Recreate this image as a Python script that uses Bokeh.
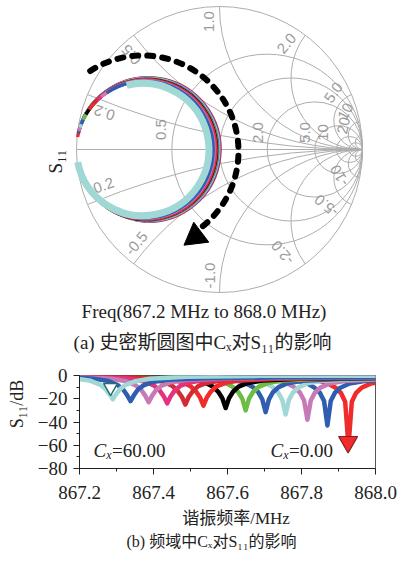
import math
from bokeh.plotting import figure
from bokeh.models import Range1d, FixedTicker, Title
from bokeh.core.properties import value
from bokeh.embed import file_html
from bokeh.resources import INLINE

# ------------------------------------------------------------------ data
X_TICKS = [867.2, 867.4, 867.6, 867.8, 868.0]
X_TICK_LABELS = ["867.2", "867.4", "867.6", "867.8", "868.0"]
X_MINOR = [867.3, 867.5, 867.7, 867.9]
Y_TICKS = [0, -20, -40, -60, -80]
Y_TICK_LABELS = ["0", "\u221220", "\u221240", "\u221260", "\u221280"]
Y_MINOR = [-10, -30, -50, -70]

# resonance centre of each trace (MHz), left (Cx=60) to right (Cx=0)
DIP_FREQ = [867.290, 867.338, 867.387, 867.437, 867.486, 867.535, 867.595,
            867.649, 867.703, 867.757, 867.816, 867.870, 867.927]
COLORS = ["#9fd8d5", "#2f5db0", "#c67ab6", "#e6317d", "#d22b32", "#ef2b2b",
          "#000000", "#6cbd46", "#2f5db0", "#9fd8d5", "#c67ab6", "#2f5db0", "#ef2b2b"]

# frequency offsets (MHz) from each resonance, and S11 (dB) read at them
OFFSETS = [-0.80, -0.40, -0.20, -0.10, -0.06, -0.035, -0.02, -0.009, 0.0,
           0.009, 0.02, 0.035, 0.06, 0.10, 0.20, 0.40, 0.80]
DIP01 = [-0.1, -0.3, -1.0, -2.6, -4.6, -7.8, -11.5, -16.0, -20.5, -16.0, -11.5, -8.0, -5.0, -2.8, -1.0, -0.3, -0.2]
DIP02 = [-0.1, -0.3, -1.0, -2.7, -4.8, -8.2, -12.0, -17.0, -22.0, -17.0, -12.0, -8.5, -5.6, -3.6, -2.3, -1.6, -1.3]
DIP03 = [-0.1, -0.3, -1.0, -2.8, -5.0, -8.5, -12.5, -17.5, -23.0, -17.5, -12.5, -8.8, -5.8, -3.8, -2.4, -1.7, -1.4]
DIP04 = [-0.1, -0.3, -1.1, -2.9, -5.1, -8.8, -13.0, -18.0, -24.0, -18.0, -13.0, -9.0, -6.0, -4.0, -2.5, -1.8, -1.5]
DIP05 = [-0.1, -0.3, -1.1, -3.0, -5.2, -9.0, -13.5, -18.5, -25.0, -18.5, -13.5, -9.2, -6.2, -4.1, -2.6, -1.9, -1.6]
DIP06 = [-0.1, -0.3, -1.2, -3.0, -5.3, -9.2, -13.8, -19.0, -26.0, -19.0, -13.8, -9.4, -6.3, -4.2, -2.7, -2.0, -1.7]
DIP07 = [-0.1, -0.3, -1.2, -3.1, -5.4, -9.4, -14.0, -19.5, -28.0, -19.5, -14.0, -9.6, -6.4, -4.3, -2.8, -2.1, -1.8]
DIP08 = [-0.1, -0.3, -1.2, -3.2, -5.5, -9.6, -14.2, -20.0, -30.0, -20.0, -14.2, -9.8, -6.5, -4.4, -2.9, -2.2, -1.9]
DIP09 = [-0.1, -0.3, -1.3, -3.2, -5.6, -9.8, -14.4, -20.5, -31.5, -20.5, -14.4, -10.0, -6.6, -4.5, -3.0, -2.3, -2.0]
DIP10 = [-0.1, -0.3, -1.3, -3.3, -5.7, -10.0, -14.6, -21.0, -33.5, -21.0, -14.6, -10.2, -6.7, -4.6, -3.1, -2.4, -2.1]
DIP11 = [-0.1, -0.3, -1.3, -3.3, -5.8, -10.2, -14.8, -21.5, -38.0, -21.5, -14.8, -10.4, -6.8, -4.7, -3.2, -2.5, -2.2]
DIP12 = [-0.1, -0.3, -1.4, -3.4, -5.9, -10.4, -15.0, -22.0, -43.0, -22.0, -15.0, -10.5, -6.9, -4.8, -3.3, -2.6, -2.3]
DIP13 = [-0.1, -0.3, -1.4, -3.4, -6.0, -10.5, -15.2, -22.5, -61.0, -22.5, -15.2, -10.6, -7.0, -4.9, -3.4, -2.7, -2.4]
CURVES = [DIP01, DIP02, DIP03, DIP04, DIP05, DIP06, DIP07, DIP08, DIP09,
          DIP10, DIP11, DIP12, DIP13]

MARKER_FREQ = [867.284, 867.926]
MARKER_DB = [-10.3, -57.2]

# Smith chart: each S11 trace is a circle tangent at Gamma=-1 (radius in Gamma units)
TRACE_RADIUS = [0.463, 0.478, 0.481, 0.484, 0.486, 0.488, 0.490, 0.492, 0.494,
                0.496, 0.498, 0.500, 0.502]
TRACE_START_DEG = [104, 124, 130, 134, 139, 145, 150, 155, 159, 162, 165, 167, 170]
TRACE_END_DEG = [191, 200, 206, 212, 218, 224, 230, 236, 242, 248, 254, 260, 266]

SMITH_R = [0.5, 1.0, 2.0, 5.0, 10.0, 20.0]
SMITH_X = [0.2, 0.5, 1.0, 2.0, 5.0, 10.0, 20.0]

# ------------------------------------------------------------------ layout helpers
SC = 143.0          # px per unit Gamma
CX, CY = 219.0, 149.0
TOP_H = 358


def gx(px):
    return (px - CX) / SC


def gy(py):
    return (CY - py) / SC


SERIF = "'Liberation Serif', 'Noto Sans CJK SC'"
GRID_C = "#adadad"
LABEL_C = "#9a9a9a"
NB = "\u00a0"

# ------------------------------------------------------------------ Smith chart
p1 = figure(width=401, height=TOP_H, output_backend="svg", toolbar_location=None,
            x_range=Range1d(gx(0), gx(401)), y_range=Range1d(gy(TOP_H), gy(0)),
            x_axis_location=None, y_axis_location=None, min_border=0)
p1.grid.visible = False
p1.outline_line_color = None
p1.background_fill_color = "white"
p1.border_fill_color = "white"

# outer circle + resistance circles
rc_x = [0.0] + [r / (1 + r) for r in SMITH_R]
rc_rad = [1.0] + [1 / (1 + r) for r in SMITH_R]
p1.circle(x=rc_x, y=[0] * len(rc_x), radius=rc_rad, fill_color=None,
          line_color=GRID_C, line_width=1)
p1.segment(x0=[-1], y0=[0], x1=[1], y1=[0], line_color=GRID_C, line_width=1)

# reactance arcs
for xv in SMITH_X:
    for x in (xv, -xv):
        cyy = 1.0 / x
        rad = 1.0 / abs(x)
        px_ = (x * x - 1) / (x * x + 1)
        py_ = 2 * x / (x * x + 1)
        th = math.atan2(py_ - cyy, px_ - 1.0) % (2 * math.pi)
        if x > 0:
            a0, a1 = th, 1.5 * math.pi
        else:
            a0, a1 = 0.5 * math.pi, th
        p1.arc(x=[1.0], y=[cyy], radius=rad, start_angle=a0, end_angle=a1,
               direction="anticlock", line_color=GRID_C, line_width=1)

# grid labels (text, centre px, angle deg)
smith_labels = [
    ("1.0", 208, 21, 90), ("2.0", 286, 43, 50), ("5.0", 333, 92, 55),
    ("10", 345, 111, 62),
    ("0.5", 131, 54, 132), ("0.2", 104, 112, 162),
    ("0.5", 160, 129, 90), ("2.0", 257, 132, 90), ("5.0", 304, 132, 90),
    ("10", 322, 132, 90), ("20", 343, 125, 78),
    ("0.2", 103, 185, 20), ("-0.5", 136, 243, 50), ("-1.0", 209, 275, 90),
    ("-2.0", 282, 252, 130), ("-5.0", 326, 205, 140), ("-10", 339, 175, 120),
]
for t, lx, ly, ang in smith_labels:
    p1.text(x=[gx(lx)], y=[gy(ly)], text=[t], angle=math.radians(ang),
            text_font=value("Liberation Sans"), text_font_size="15px",
            text_color=LABEL_C, text_align="center", text_baseline="middle")

# S11 traces (cyan Cx=60 drawn last / on top)
order = list(range(1, len(TRACE_RADIUS)))[::-1] + [0]
for i in order:
    r = TRACE_RADIUS[i]
    p1.arc(x=[-1 + r], y=[0], radius=r,
           start_angle=math.radians(TRACE_START_DEG[i]),
           end_angle=math.radians(TRACE_END_DEG[i]), direction="clock",
           line_color=COLORS[i], line_width=7 if i == 0 else 3.4)

# dashed arrow
p1.arc(x=[gx(142)], y=[gy(151)], radius=96 / SC, start_angle=math.radians(123),
       end_angle=math.radians(-55), direction="clock", line_color="black",
       line_width=6, line_dash="6 9", line_cap="round")
p1.scatter(x=[gx(195)], y=[gy(236)], marker="triangle", size=25,
           angle=math.radians(127), fill_color="black", line_color="black")

# S11 label
p1.text(x=[gx(55)], y=[gy(161)], text=["S\u2081\u2081"], angle=math.pi / 2,
        text_font=value("Liberation Serif"), text_font_size="19px",
        text_color="#222222", text_align="center", text_baseline="middle")

# captions
p1.text(x=[gx(203.5)], y=[gy(311)], text=["Freq(867.2 MHz to 868.0 MHz)"],
        text_font=value("Liberation Serif"), text_font_size="19px",
        text_color="#222222", text_align="center", text_baseline="middle")
p1.text(x=[gx(202)], y=[gy(342)], text=["(a) 史密斯圆图中C\u2093对S\u2081\u2081的影响"],
        text_font=value(SERIF), text_font_size="19px",
        text_color="#222222", text_align="center", text_baseline="middle")

# ------------------------------------------------------------------ frequency plot
p2 = figure(width=401, height=561 - TOP_H, output_backend="svg", toolbar_location=None,
            x_range=Range1d(867.2, 868.0), y_range=Range1d(-80, 0),
            min_border_left=79, min_border_right=26, min_border_top=17,
            min_border_bottom=93)
p2.grid.visible = False
p2.outline_line_color = "#555555"
p2.xaxis.ticker = FixedTicker(ticks=X_TICKS, minor_ticks=X_MINOR)
p2.yaxis.ticker = FixedTicker(ticks=Y_TICKS, minor_ticks=Y_MINOR)
p2.xaxis.major_label_overrides = dict(zip(X_TICKS, X_TICK_LABELS))
p2.yaxis.major_label_overrides = dict(zip(Y_TICKS, Y_TICK_LABELS))
for ax in (p2.xaxis[0], p2.yaxis[0]):
    ax.major_tick_out = 6
    ax.major_tick_in = 0
    ax.minor_tick_out = 3
    ax.minor_tick_in = 0
    ax.axis_line_color = "#222222"
    ax.major_tick_line_color = "#222222"
    ax.minor_tick_line_color = "#222222"
    ax.major_label_text_font = "Liberation Serif"
    ax.major_label_text_font_size = "19px"
    ax.major_label_text_color = "#222222"
    ax.axis_label_text_font = SERIF
    ax.axis_label_text_font_style = "normal"
    ax.axis_label_text_color = "#222222"
p2.xaxis.major_label_standoff = 11
p2.yaxis.major_label_standoff = 6
p2.xaxis.axis_label = NB * 4 + "谐振频率/MHz"
p2.xaxis.axis_label_text_font_size = "17px"
p2.yaxis.axis_label = NB * 8 + "S\u2081\u2081/dB"
p2.yaxis.axis_label_text_font_size = "18px"
p2.xaxis.axis_label_standoff = 7
p2.yaxis.axis_label_standoff = 8

for i in reversed(range(len(CURVES))):
    xs = [DIP_FREQ[i] + o for o in OFFSETS]
    p2.line(xs, CURVES[i], line_color=COLORS[i], line_width=4.5, line_join="round")

p2.scatter(x=[MARKER_FREQ[0]], y=[MARKER_DB[0]], marker="inverted_triangle", size=14,
           fill_color="white", line_color="#2b6e6e", line_width=1.5)
p2.scatter(x=[MARKER_FREQ[1]], y=[MARKER_DB[1]], marker="inverted_triangle", size=19,
           fill_color="#ee2c2c", line_color="#8c1c1c", line_width=1.2)


def cx_label(x0, xsub, xeq, txt):
    p2.text(x=[x0], y=[-64.5], text=["C"], text_font=value("Liberation Serif"),
            text_font_style="italic", text_font_size="19px", text_color="#222222",
            text_align="left", text_baseline="middle")
    p2.text(x=[xsub], y=[-68.5], text=["x"], text_font=value("Liberation Serif"),
            text_font_style="italic", text_font_size="12px", text_color="#222222",
            text_align="left", text_baseline="middle")
    p2.text(x=[xeq], y=[-64.5], text=[txt], text_font=value("Liberation Serif"),
            text_font_size="19px", text_color="#222222",
            text_align="left", text_baseline="middle")


cx_label(867.238, 867.272, 867.288, "=60.00")
cx_label(867.716, 867.751, 867.766, "=0.00")

cap = Title(text="(b) 频域中C\u2093对S\u2081\u2081的影响" + NB * 8, align="center",
            text_font=SERIF, text_font_size="16px", text_font_style="normal",
            text_color="#222222", standoff=0)
p2.add_layout(cap, "below")

open("out.html", "w").write(file_html([p1, p2], INLINE))
